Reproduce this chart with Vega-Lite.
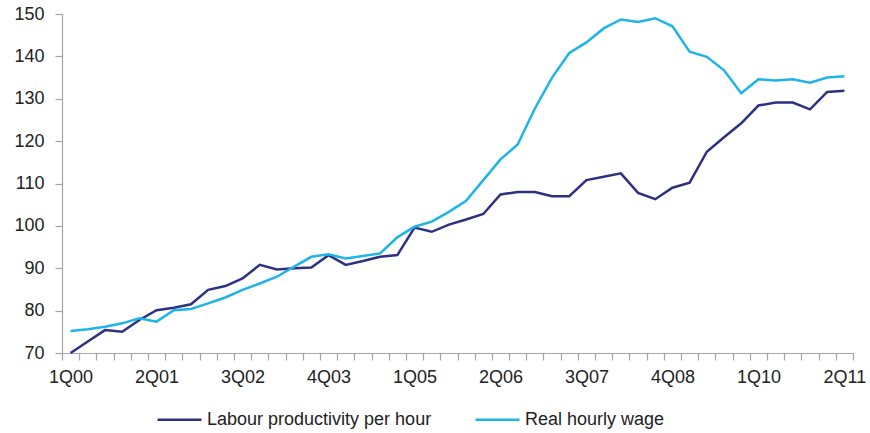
{
  "$schema": "https://vega.github.io/schema/vega-lite/v6.json",
  "width": 791,
  "height": 339,
  "autosize": {"type": "none"},
  "padding": {"left": 62, "top": 14, "right": 17, "bottom": 80},
  "background": "white",
  "config": {
    "view": {"stroke": null},
    "font": "Liberation Sans"
  },
  "data": {
    "values": [
      {"q":"1Q00","s":"Labour productivity per hour","v":70.0},
      {"q":"2Q00","s":"Labour productivity per hour","v":72.7},
      {"q":"3Q00","s":"Labour productivity per hour","v":75.4},
      {"q":"4Q00","s":"Labour productivity per hour","v":75.0},
      {"q":"1Q01","s":"Labour productivity per hour","v":77.8},
      {"q":"2Q01","s":"Labour productivity per hour","v":80.1},
      {"q":"3Q01","s":"Labour productivity per hour","v":80.7},
      {"q":"4Q01","s":"Labour productivity per hour","v":81.5},
      {"q":"1Q02","s":"Labour productivity per hour","v":84.9},
      {"q":"2Q02","s":"Labour productivity per hour","v":85.8},
      {"q":"3Q02","s":"Labour productivity per hour","v":87.6},
      {"q":"4Q02","s":"Labour productivity per hour","v":90.8},
      {"q":"1Q03","s":"Labour productivity per hour","v":89.7},
      {"q":"2Q03","s":"Labour productivity per hour","v":90.0},
      {"q":"3Q03","s":"Labour productivity per hour","v":90.2},
      {"q":"4Q03","s":"Labour productivity per hour","v":93.1},
      {"q":"1Q04","s":"Labour productivity per hour","v":90.8},
      {"q":"2Q04","s":"Labour productivity per hour","v":91.7},
      {"q":"3Q04","s":"Labour productivity per hour","v":92.7},
      {"q":"4Q04","s":"Labour productivity per hour","v":93.1},
      {"q":"1Q05","s":"Labour productivity per hour","v":99.6},
      {"q":"2Q05","s":"Labour productivity per hour","v":98.6},
      {"q":"3Q05","s":"Labour productivity per hour","v":100.3},
      {"q":"4Q05","s":"Labour productivity per hour","v":101.5},
      {"q":"1Q06","s":"Labour productivity per hour","v":102.8},
      {"q":"2Q06","s":"Labour productivity per hour","v":107.4},
      {"q":"3Q06","s":"Labour productivity per hour","v":108.0},
      {"q":"4Q06","s":"Labour productivity per hour","v":108.0},
      {"q":"1Q07","s":"Labour productivity per hour","v":107.0},
      {"q":"2Q07","s":"Labour productivity per hour","v":107.0},
      {"q":"3Q07","s":"Labour productivity per hour","v":110.8},
      {"q":"4Q07","s":"Labour productivity per hour","v":111.6},
      {"q":"1Q08","s":"Labour productivity per hour","v":112.4},
      {"q":"2Q08","s":"Labour productivity per hour","v":107.8},
      {"q":"3Q08","s":"Labour productivity per hour","v":106.3},
      {"q":"4Q08","s":"Labour productivity per hour","v":109.0},
      {"q":"1Q09","s":"Labour productivity per hour","v":110.2},
      {"q":"2Q09","s":"Labour productivity per hour","v":117.5},
      {"q":"3Q09","s":"Labour productivity per hour","v":120.9},
      {"q":"4Q09","s":"Labour productivity per hour","v":124.2},
      {"q":"1Q10","s":"Labour productivity per hour","v":128.4},
      {"q":"2Q10","s":"Labour productivity per hour","v":129.1},
      {"q":"3Q10","s":"Labour productivity per hour","v":129.1},
      {"q":"4Q10","s":"Labour productivity per hour","v":127.5},
      {"q":"1Q11","s":"Labour productivity per hour","v":131.6},
      {"q":"2Q11","s":"Labour productivity per hour","v":131.9},
      {"q":"1Q00","s":"Real hourly wage","v":75.2},
      {"q":"2Q00","s":"Real hourly wage","v":75.6},
      {"q":"3Q00","s":"Real hourly wage","v":76.2},
      {"q":"4Q00","s":"Real hourly wage","v":77.0},
      {"q":"1Q01","s":"Real hourly wage","v":78.2},
      {"q":"2Q01","s":"Real hourly wage","v":77.4},
      {"q":"3Q01","s":"Real hourly wage","v":80.1},
      {"q":"4Q01","s":"Real hourly wage","v":80.4},
      {"q":"1Q02","s":"Real hourly wage","v":81.7},
      {"q":"2Q02","s":"Real hourly wage","v":83.1},
      {"q":"3Q02","s":"Real hourly wage","v":84.9},
      {"q":"4Q02","s":"Real hourly wage","v":86.4},
      {"q":"1Q03","s":"Real hourly wage","v":88.0},
      {"q":"2Q03","s":"Real hourly wage","v":90.4},
      {"q":"3Q03","s":"Real hourly wage","v":92.7},
      {"q":"4Q03","s":"Real hourly wage","v":93.3},
      {"q":"1Q04","s":"Real hourly wage","v":92.3},
      {"q":"2Q04","s":"Real hourly wage","v":92.9},
      {"q":"3Q04","s":"Real hourly wage","v":93.5},
      {"q":"4Q04","s":"Real hourly wage","v":97.3},
      {"q":"1Q05","s":"Real hourly wage","v":99.8},
      {"q":"2Q05","s":"Real hourly wage","v":101.0},
      {"q":"3Q05","s":"Real hourly wage","v":103.3},
      {"q":"4Q05","s":"Real hourly wage","v":105.9},
      {"q":"1Q06","s":"Real hourly wage","v":110.8},
      {"q":"2Q06","s":"Real hourly wage","v":115.7},
      {"q":"3Q06","s":"Real hourly wage","v":119.2},
      {"q":"4Q06","s":"Real hourly wage","v":127.7},
      {"q":"1Q07","s":"Real hourly wage","v":135.0},
      {"q":"2Q07","s":"Real hourly wage","v":140.8},
      {"q":"3Q07","s":"Real hourly wage","v":143.3},
      {"q":"4Q07","s":"Real hourly wage","v":146.6},
      {"q":"1Q08","s":"Real hourly wage","v":148.7},
      {"q":"2Q08","s":"Real hourly wage","v":148.1},
      {"q":"3Q08","s":"Real hourly wage","v":149.0},
      {"q":"4Q08","s":"Real hourly wage","v":147.1},
      {"q":"1Q09","s":"Real hourly wage","v":141.1},
      {"q":"2Q09","s":"Real hourly wage","v":139.9},
      {"q":"3Q09","s":"Real hourly wage","v":136.7},
      {"q":"4Q09","s":"Real hourly wage","v":131.3},
      {"q":"1Q10","s":"Real hourly wage","v":134.6},
      {"q":"2Q10","s":"Real hourly wage","v":134.3},
      {"q":"3Q10","s":"Real hourly wage","v":134.6},
      {"q":"4Q10","s":"Real hourly wage","v":133.8},
      {"q":"1Q11","s":"Real hourly wage","v":135.0},
      {"q":"2Q11","s":"Real hourly wage","v":135.3}
    ]
  },
  "mark": {"type": "line", "strokeWidth": 2.5},
  "encoding": {
    "x": {
      "field": "q",
      "type": "ordinal",
      "sort": null,
      "bandPosition": 0.5,
      "scale": {"type": "band", "paddingInner": 0, "paddingOuter": 0},
      "axis": {
        "title": null,
        "labelAngle": 0,
        "labelFontSize": 18,
        "labelColor": "#222222",
        "labelPadding": 8,
        "tickBand": "extent",
        "tickSize": 7,
        "tickColor": "#a6a6a6",
        "domainColor": "#a6a6a6",
        "tickWidth": 1.2,
        "domainWidth": 1.2,
        "labelOverlap": false,
        "labelExpr": "indexof(['1Q00','2Q01','3Q02','4Q03','1Q05','2Q06','3Q07','4Q08','1Q10','2Q11'], datum.value) >= 0 ? datum.label : ''"
      }
    },
    "y": {
      "field": "v",
      "type": "quantitative",
      "scale": {"domain": [70, 150], "nice": false, "zero": false},
      "axis": {
        "title": null,
        "values": [70, 80, 90, 100, 110, 120, 130, 140, 150],
        "grid": false,
        "labelFontSize": 18,
        "labelColor": "#222222",
        "labelPadding": 11,
        "tickSize": 7,
        "tickColor": "#a6a6a6",
        "domainColor": "#a6a6a6",
        "tickWidth": 1.2,
        "domainWidth": 1.2
      }
    },
    "color": {
      "field": "s",
      "type": "nominal",
      "scale": {
        "domain": ["Labour productivity per hour", "Real hourly wage"],
        "range": ["#2E3182", "#1EB4EA"]
      },
      "legend": {
        "title": null,
        "orient": "none",
        "legendX": 94,
        "legendY": 382,
        "direction": "horizontal",
        "symbolType": "stroke",
        "symbolSize": 1936,
        "symbolStrokeWidth": 2.5,
        "labelFontSize": 18,
        "labelLimit": 400,
        "labelColor": "#222222",
        "labelOffset": 4,
        "columnPadding": 38
      }
    }
  }
}
